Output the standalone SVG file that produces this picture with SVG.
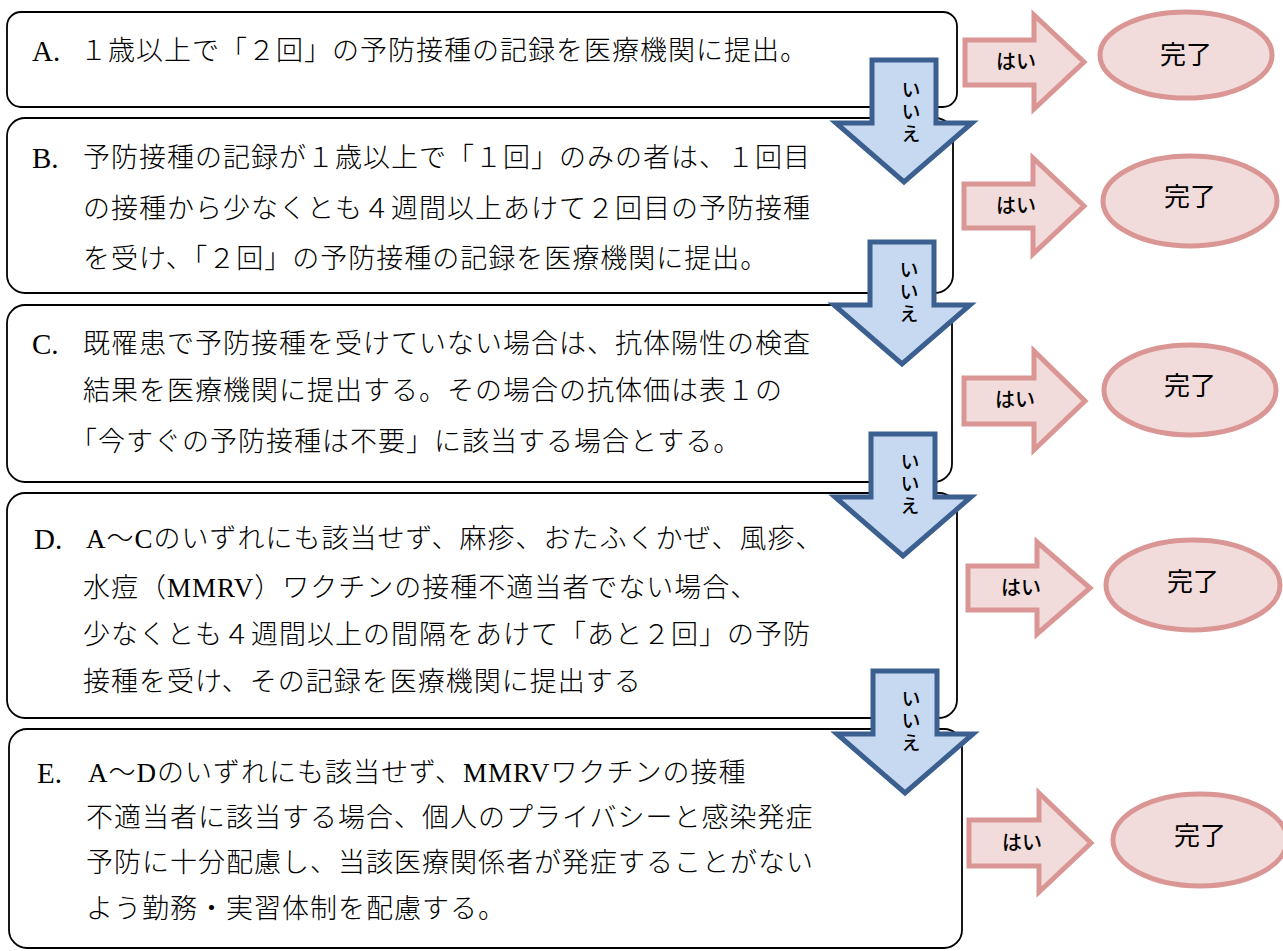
<svg xmlns="http://www.w3.org/2000/svg" width="1283" height="951" viewBox="0 0 1283 951">
<style>
.box{fill:#ffffff;stroke:#000000;stroke-width:1.8}
.t{font-family:"Liberation Serif","Noto Sans CJK JP",serif;font-size:27px;letter-spacing:1px;fill:#000000;font-weight:300}
.lbl{font-family:"Liberation Serif",serif;font-size:29px;fill:#000000}
.down{fill:#C6D9F1;stroke:#3B5F8E;stroke-width:5;stroke-linejoin:miter}
.right{fill:#F2DCDB;stroke:#D99694;stroke-width:5;stroke-linejoin:miter}
.end{fill:#F2DCDB;stroke:#D99694;stroke-width:5}
.no{font-family:"Noto Sans CJK JP",sans-serif;font-size:19px;font-weight:500;fill:#000000;writing-mode:vertical-rl;letter-spacing:3px}
.yes{font-family:"Noto Sans CJK JP",sans-serif;font-size:20px;font-weight:500;fill:#000000;text-anchor:middle}
.done{font-family:"Noto Sans CJK JP",sans-serif;font-size:26px;fill:#000000;text-anchor:middle}
</style>

<g id="node-A">
<rect class="box" x="7" y="12" width="950" height="95" rx="14"/>
<text class="lbl" x="32" y="61">A.</text>
<text class="t" x="80" y="60">１歳以上で「２回」の予防接種の記録を医療機関に提出。</text>
</g>

<g id="node-B">
<rect class="box" x="7" y="118" width="946" height="175" rx="18"/>
<text class="lbl" x="32" y="168">B.</text>
<text class="t" x="83" y="167">予防接種の記録が１歳以上で「１回」のみの者は、１回目</text>
<text class="t" x="83" y="218">の接種から少なくとも４週間以上あけて２回目の予防接種</text>
<text class="t" x="83" y="268">を受け、「２回」の予防接種の記録を医療機関に提出。</text>
</g>

<g id="node-C">
<rect class="box" x="7" y="305" width="945" height="177" rx="18"/>
<text class="lbl" x="32" y="354">C.</text>
<text class="t" x="83" y="353">既罹患で予防接種を受けていない場合は、抗体陽性の検査</text>
<text class="t" x="83" y="400">結果を医療機関に提出する。その場合の抗体価は表１の</text>
<text class="t" x="70" y="451">「今すぐの予防接種は不要」に該当する場合とする。</text>
</g>

<g id="node-D">
<rect class="box" x="7" y="493" width="950" height="225" rx="18"/>
<text class="lbl" x="34" y="549">D.</text>
<text class="t" x="86" y="548">A～Cのいずれにも該当せず、麻疹、おたふくかぜ、風疹、</text>
<text class="t" x="83" y="597">水痘（MMRV）ワクチンの接種不適当者でない場合、</text>
<text class="t" x="83" y="644">少なくとも４週間以上の間隔をあけて「あと２回」の予防</text>
<text class="t" x="83" y="691">接種を受け、その記録を医療機関に提出する</text>
</g>

<g id="node-E">
<rect class="box" x="9" y="729" width="953" height="219" rx="18"/>
<text class="lbl" x="37" y="783">E.</text>
<text class="t" x="88" y="782">A～Dのいずれにも該当せず、MMRVワクチンの接種</text>
<text class="t" x="86" y="827">不適当者に該当する場合、個人のプライバシーと感染発症</text>
<text class="t" x="86" y="872">予防に十分配慮し、当該医療関係者が発症することがない</text>
<text class="t" x="86" y="918">よう勤務・実習体制を配慮する。</text>
</g>

<g id="done-1"><ellipse class="end" cx="1186" cy="55" rx="86" ry="43"/><text class="done" x="1186" y="64">完了</text></g>
<g id="done-2"><ellipse class="end" cx="1190" cy="201" rx="87" ry="45"/><text class="done" x="1190" y="206">完了</text></g>
<g id="done-3"><ellipse class="end" cx="1190" cy="390" rx="86" ry="45"/><text class="done" x="1190" y="395">完了</text></g>
<g id="done-4"><ellipse class="end" cx="1193" cy="585" rx="87" ry="45"/><text class="done" x="1193" y="591">完了</text></g>
<g id="done-5"><ellipse class="end" cx="1200" cy="840" rx="87" ry="46"/><text class="done" x="1200" y="845">完了</text></g>

<g id="connectors">
<g id="no-1">
<polygon class="down" points="872,60 936,60 936,123 972,123 904,182 836,123 872,123"/>
<text class="no" x="911" y="80">いいえ</text>
</g>
<g id="no-2">
<polygon class="down" points="870,242 934,242 934,305 970,305 902,364 834,305 870,305"/>
<text class="no" x="909" y="260">いいえ</text>
</g>
<g id="no-3">
<polygon class="down" points="871,434 935,434 935,497 971,497 903,556 835,497 871,497"/>
<text class="no" x="910" y="452">いいえ</text>
</g>
<g id="no-4">
<polygon class="down" points="873,671 937,671 937,734 973,734 905,793 837,734 873,734"/>
<text class="no" x="911" y="689">いいえ</text>
</g>
<g id="yes-1">
<polygon class="right" points="965,40 1034,40 1034,15 1084,62 1034,109 1034,85 965,85"/>
<text class="yes" x="1016" y="69">はい</text>
</g>
<g id="yes-2">
<polygon class="right" points="964,184 1033,184 1033,158 1084,206 1033,254 1033,228 964,228"/>
<text class="yes" x="1016" y="213">はい</text>
</g>
<g id="yes-3">
<polygon class="right" points="964,378 1034,378 1034,351 1085,401 1034,450 1034,424 964,424"/>
<text class="yes" x="1015" y="407">はい</text>
</g>
<g id="yes-4">
<polygon class="right" points="968,566 1037,566 1037,542 1090,588 1037,634 1037,610 968,610"/>
<text class="yes" x="1021" y="595">はい</text>
</g>
<g id="yes-5">
<polygon class="right" points="969,820 1039,820 1039,793 1091,843 1039,892 1039,866 969,866"/>
<text class="yes" x="1022" y="850">はい</text>
</g>
</g>
</svg>
